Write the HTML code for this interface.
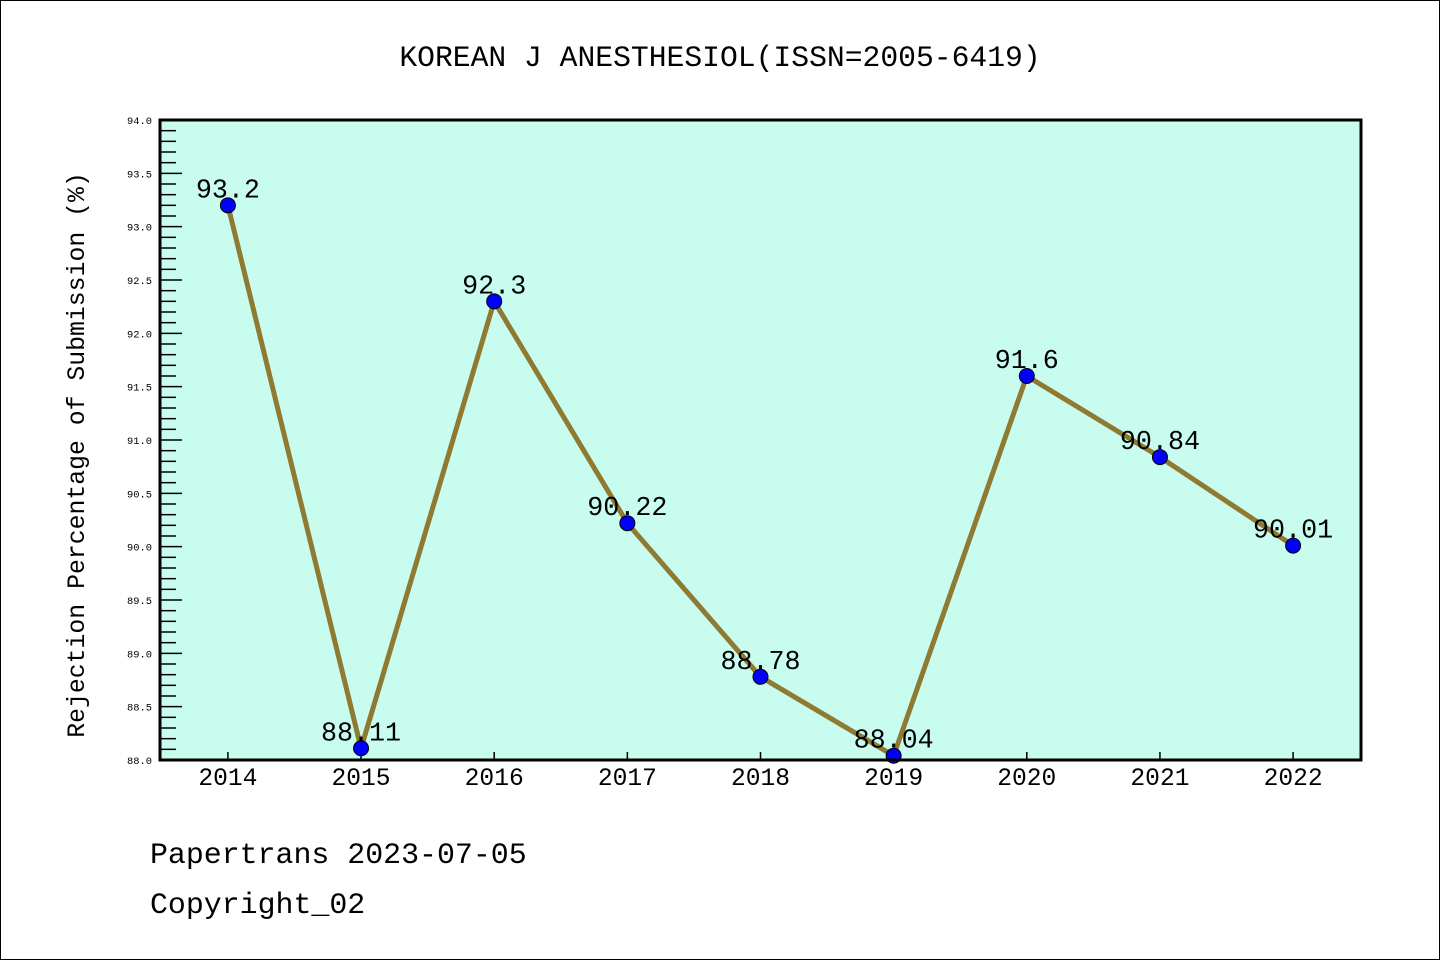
<!DOCTYPE html>
<html><head><meta charset="utf-8"><style>
body{margin:0;background:#fff}
svg{display:block}
text{font-family:"Liberation Mono",monospace}
</style></head><body>
<svg id="c" width="1440" height="960">
<rect x="0.5" y="0.5" width="1439" height="959" fill="#fff" stroke="#000"/>
<text x="720" y="66" font-size="29.7" text-anchor="middle">KOREAN J ANESTHESIOL(ISSN=2005-6419)</text>
<rect x="160" y="120" width="1201" height="640" fill="#c8fcee"/>
<g id="axes"></g>
<g id="marks"></g>
<rect x="160" y="120" width="1201" height="640" fill="none" stroke="#000" stroke-width="3"/>
<text transform="translate(84,455) rotate(-90)" font-size="24.8" text-anchor="middle">Rejection Percentage of Submission (%)</text>
<text x="150" y="863" font-size="29.9">Papertrans 2023-07-05</text>
<text x="150" y="913" font-size="29.9">Copyright_02</text>
</svg>
<script>
const years=["2014","2015","2016","2017","2018","2019","2020","2021","2022"];
const values=[93.2,88.11,92.3,90.22,88.78,88.04,91.6,90.84,90.01];
const labels=["93.2","88.11","92.3","90.22","88.78","88.04","91.6","90.84","90.01"];
const yTicks=["88.0","88.5","89.0","89.5","90.0","90.5","91.0","91.5","92.0","92.5","93.0","93.5","94.0"];
const NS="http://www.w3.org/2000/svg";
const X=i=>160+(i+0.51)*(1201/9.02);
const Y=v=>760-(v-88)/6*640;
function mk(tag,attrs,parent,txt){const e=document.createElementNS(NS,tag);for(const k in attrs)e.setAttribute(k,attrs[k]);if(txt!==undefined)e.textContent=txt;parent.appendChild(e);return e;}
const ax=document.getElementById('axes'),mg=document.getElementById('marks');
for(let k=0;k<=60;k++){const v=88+k*0.1;const y=Y(v);const major=k%5===0;
 const t=mk('line',{x1:160,x2:major?182:176,y1:y,y2:y,stroke:'#000','stroke-width':1.5},ax);
 }
yTicks.forEach(s=>{const t=mk('text',{x:152,y:Y(parseFloat(s))+4,'font-size':10.4,'text-anchor':'end'},ax,s);
 });
years.forEach((s,i)=>{const x=X(i);
 const t=mk('line',{x1:x,x2:x,y1:760,y2:752,stroke:'#000','stroke-width':1.5},ax);
 
 const l=mk('text',{x:x,y:785,'font-size':24.6,'text-anchor':'middle'},ax,s);
 });
const pts=values.map((v,i)=>X(i)+','+Y(v)).join(' ');
const pl=mk('polyline',{points:pts,fill:'none',stroke:'#8f7a32','stroke-width':5,'stroke-linejoin':'round'},mg);

values.forEach((v,i)=>{const c=mk('circle',{cx:X(i),cy:Y(v),r:7.5,fill:'#0000ff',stroke:'#000','stroke-width':1},mg);
 
 const t=mk('text',{x:X(i),y:Y(v)-8,'font-size':26.7,'text-anchor':'middle'},mg,labels[i]);
 });
</script>
</body></html>
